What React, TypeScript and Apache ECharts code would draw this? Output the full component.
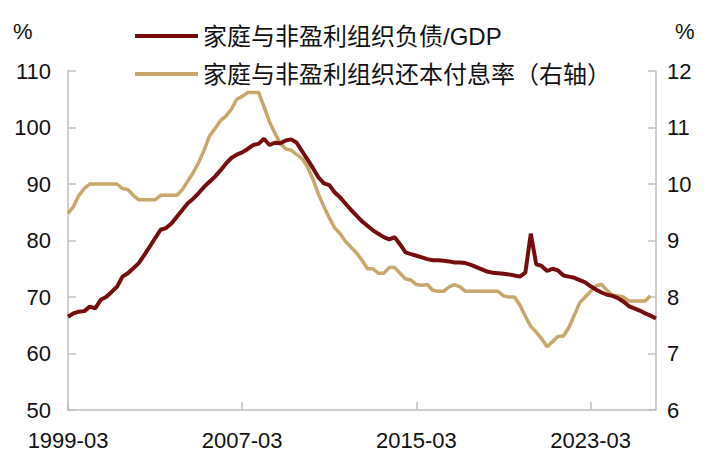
import React, { useEffect, useRef } from "react";
import * as echarts from "echarts";

// Quarterly categories 1999-03 .. 2026-03
const startYear = 1999;
const quarterMonths = ["03", "06", "09", "12"];
const categories: string[] = [];
for (let i = 0; i < 109; i++) {
  categories.push(`${startYear + Math.floor(i / 4)}-${quarterMonths[i % 4]}`);
}

const seriesNames = ["家庭与非盈利组织负债/GDP", "家庭与非盈利组织还本付息率（右轴）"];

// Household & non-profit debt / GDP (%), left axis
const debtToGdp = [
  66.5, 67.1, 67.4, 67.5, 68.3, 68.0, 69.5, 70.0, 70.9, 71.8,
  73.6, 74.2, 75.1, 76.0, 77.4, 78.9, 80.4, 81.9, 82.2, 83.0,
  84.2, 85.4, 86.6, 87.4, 88.4, 89.5, 90.4, 91.3, 92.4, 93.6,
  94.6, 95.2, 95.6, 96.2, 96.9, 97.1, 98.0, 96.9, 97.3, 97.2,
  97.7, 97.9, 97.3, 95.8, 94.3, 92.8, 91.2, 90.1, 89.8, 88.5,
  87.6, 86.5, 85.4, 84.4, 83.4, 82.6, 81.8, 81.2, 80.6, 80.2,
  80.6, 79.3, 77.9, 77.6, 77.3, 77.0, 76.7, 76.5, 76.5, 76.4,
  76.3, 76.1, 76.1, 76.0, 75.7, 75.3, 74.9, 74.5, 74.3, 74.2,
  74.1, 74.0, 73.8, 73.6, 74.3, 81.2, 75.8, 75.5, 74.6, 75.0,
  74.7, 73.8, 73.6, 73.4, 73.0, 72.6, 71.9, 71.3, 70.8, 70.4,
  70.2, 69.8, 69.2, 68.4, 68.0, 67.6, 67.1, 66.7, 66.2,
];

// Household & non-profit debt service ratio (%), right axis
const debtService = [
  9.48, 9.6, 9.8, 9.92, 10.0, 10.0, 10.0, 10.0, 10.0, 10.0,
  9.92, 9.9, 9.8, 9.72, 9.72, 9.72, 9.72, 9.8, 9.8, 9.8,
  9.8, 9.9, 10.05, 10.2, 10.38, 10.6, 10.85, 10.98, 11.12, 11.2,
  11.32, 11.5, 11.55, 11.62, 11.62, 11.62, 11.37, 11.1, 10.9, 10.72,
  10.62, 10.6, 10.52, 10.45, 10.3, 10.08, 9.82, 9.6, 9.4, 9.22,
  9.12, 8.98, 8.88, 8.78, 8.65, 8.5, 8.5, 8.42, 8.42, 8.52,
  8.52, 8.42, 8.32, 8.3, 8.22, 8.21, 8.22, 8.12, 8.1, 8.1,
  8.18, 8.22, 8.18, 8.1, 8.1, 8.1, 8.1, 8.1, 8.1, 8.1,
  8.02, 8.0, 8.0, 7.86, 7.66, 7.48, 7.38, 7.26, 7.12, 7.21,
  7.3, 7.31, 7.46, 7.68, 7.9, 8.0, 8.1, 8.2, 8.22, 8.12,
  8.03, 8.02, 8.0, 7.93, 7.93, 7.93, 7.93, 8.02, null,
];

const RED = "#760c0c";
const TAN = "#c8a76c";
const AXIS = "#bfbfbf";
const FONT = "'Liberation Sans', Arial, 'Noto Sans CJK SC', sans-serif";

export default function App() {
  const ref = useRef<HTMLDivElement>(null);
  useEffect(() => {
    const chart = echarts.init(ref.current!, null, { renderer: "svg" });
    const axisCommon = {
      axisLine: { show: true, lineStyle: { color: AXIS, width: 1.5 } },
      axisTick: { show: true, inside: true, length: 8, lineStyle: { color: AXIS, width: 1.5 } },
      splitLine: { show: false },
    };
    chart.setOption({
      animation: false,
      backgroundColor: "#ffffff",
      grid: { left: 68, right: 51, top: 71, bottom: 59 },
      legend: {
        orient: "vertical",
        left: 130,
        top: 19,
        itemWidth: 63,
        itemHeight: 4,
        itemGap: 14,
        icon: "rect",
        data: seriesNames,
        textStyle: { fontSize: 24, lineHeight: 24, color: "#111", fontFamily: FONT },
      },
      graphic: [
        { type: "text", left: 13, top: 20, style: { text: "%", fontSize: 22, fill: "#111", fontFamily: FONT } },
        { type: "text", left: 675, top: 20, style: { text: "%", fontSize: 22, fill: "#111", fontFamily: FONT } },
      ],
      xAxis: {
        type: "category",
        data: categories,
        boundaryGap: false,
        ...axisCommon,
        axisTick: { ...axisCommon.axisTick, interval: 31 },
        axisLabel: { interval: 31, margin: 19, fontSize: 22, color: "#111", fontFamily: FONT },
      },
      yAxis: [
        {
          type: "value",
          min: 50,
          max: 110,
          interval: 10,
          position: "left",
          ...axisCommon,
          axisLabel: { margin: 17, fontSize: 22, color: "#111", fontFamily: FONT },
        },
        {
          type: "value",
          min: 6,
          max: 12,
          interval: 1,
          position: "right",
          ...axisCommon,
          axisLabel: { margin: 11, fontSize: 22, color: "#111", fontFamily: FONT },
        },
      ],
      series: [
        {
          name: seriesNames[0],
          type: "line",
          yAxisIndex: 0,
          data: debtToGdp,
          showSymbol: false,
          color: RED,
          lineStyle: { color: RED, width: 4 },
          z: 3,
        },
        {
          name: seriesNames[1],
          type: "line",
          yAxisIndex: 1,
          data: debtService,
          showSymbol: false,
          color: TAN,
          lineStyle: { color: TAN, width: 3.5 },
          z: 2,
        },
      ],
    });
    return () => chart.dispose();
  }, []);
  return (
    <div
      ref={ref}
      style={{ position: "absolute", left: 0, top: 0, width: 707, height: 469 }}
    />
  );
}
